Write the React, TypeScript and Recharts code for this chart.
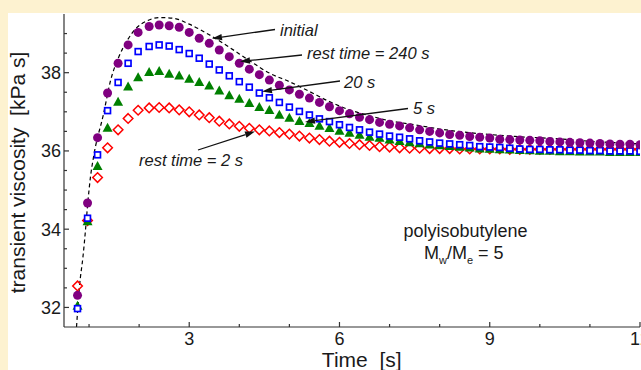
import React from 'react';
import { ComposedChart, XAxis, YAxis, Scatter, Line } from 'recharts';

const FONT = '"Liberation Sans", Arial, Helvetica, sans-serif';

const times = [0.77, 0.97, 1.17, 1.37, 1.58, 1.78, 1.98,
  2.2, 2.4, 2.6, 2.8, 3.0, 3.2, 3.4, 3.6, 3.8, 4.0, 4.2, 4.4, 4.6, 4.8, 5.0,
  5.2, 5.4, 5.6, 5.8, 6.0, 6.2, 6.4, 6.6, 6.8, 7.0, 7.2, 7.4, 7.6, 7.8, 8.0,
  8.2, 8.4, 8.6, 8.8, 9.0, 9.2, 9.4, 9.6, 9.8, 10.0, 10.2, 10.4, 10.6, 10.8, 11.0,
  11.2, 11.4, 11.6, 11.8, 12.0];

const rest240 = [32.31, 34.67, 36.34, 37.48, 38.24, 38.71, 39.03,
  39.18, 39.22, 39.20, 39.16, 39.03, 38.88, 38.75, 38.58, 38.41, 38.24, 38.09, 37.95, 37.81, 37.68, 37.56,
  37.45, 37.35, 37.24, 37.13, 37.03, 36.95, 36.86, 36.80, 36.73, 36.68, 36.64, 36.59, 36.54, 36.50, 36.46,
  36.42, 36.40, 36.37, 36.35, 36.33, 36.30, 36.29, 36.28, 36.27, 36.26, 36.24, 36.23, 36.22, 36.21, 36.20,
  36.19, 36.18, 36.17, 36.17, 36.16];

const rest20 = [31.97, 34.28, 35.90, 37.03, 37.75, 38.24, 38.54,
  38.67, 38.71, 38.68, 38.59, 38.49, 38.37, 38.22, 38.07, 37.92, 37.77, 37.63, 37.48, 37.36, 37.24, 37.12,
  37.01, 36.92, 36.82, 36.75, 36.67, 36.60, 36.54, 36.48, 36.43, 36.38, 36.35, 36.31, 36.26, 36.23, 36.20,
  36.18, 36.16, 36.14, 36.11, 36.10, 36.09, 36.07, 36.05, 36.04, 36.04, 36.03, 36.03, 36.02, 36.02, 36.01,
  36.01, 36.00, 36.00, 36.00, 35.99];

const rest5 = [32.04, 34.20, 35.61, 36.59, 37.25, 37.64, 37.88,
  38.01, 38.04, 37.97, 37.92, 37.84, 37.76, 37.67, 37.54, 37.42, 37.33, 37.22, 37.12, 37.04, 36.92, 36.84,
  36.76, 36.71, 36.64, 36.58, 36.51, 36.46, 36.41, 36.36, 36.33, 36.29, 36.25, 36.22, 36.19, 36.16, 36.14,
  36.12, 36.10, 36.08, 36.06, 36.05, 36.04, 36.03, 36.02, 36.01, 36.00, 36.00, 35.99, 35.99, 35.98, 35.98,
  35.98, 35.97, 35.97, 35.97, 35.97];

const rest2 = [32.55, 34.22, 35.32, 36.08, 36.54, 36.83, 37.04,
  37.10, 37.11, 37.10, 37.05, 37.00, 36.92, 36.85, 36.76, 36.69, 36.63, 36.58, 36.54, 36.51, 36.47, 36.43,
  36.38, 36.33, 36.29, 36.25, 36.22, 36.19, 36.16, 36.14, 36.11, 36.10, 36.08, 36.07, 36.07, 36.06, 36.06,
  36.06, 36.05, 36.05, 36.05, 36.05, 36.05, 36.04, 36.04, 36.04, 36.04, 36.04, 36.04, 36.04, 36.04, 36.04,
  36.04, 36.04, 36.04, 36.04, 36.04];

const initialT = [0.75, 0.81, 0.88, 0.93, 0.97, 1.03, 1.09, 1.29, 1.43, 1.59, 1.76, 1.92, 2.15, 2.42, 2.69,
  3.0, 3.4, 3.8, 4.2, 4.6, 5.0, 5.4, 5.8, 6.2, 6.6, 7.0, 7.5, 8.0, 8.5, 9.0, 9.5, 10.25, 11.1, 12.0];
const initialV = [31.5, 32.55, 33.31, 33.99, 34.6, 35.35, 35.85, 36.95, 37.8, 38.39, 38.82, 39.11, 39.32, 39.41, 39.39,
  39.24, 38.97, 38.65, 38.31, 37.99, 37.77, 37.52, 37.26, 37.05, 36.9, 36.77, 36.67, 36.56, 36.48, 36.42, 36.37, 36.32, 36.24, 36.18];

const xTicks = [1, 2, 3, 4, 5, 6, 7, 8, 9, 10, 11, 12];
const xMajor = [3, 6, 9, 12];
const yTicks = [32, 32.5, 33, 33.5, 34, 34.5, 35, 35.5, 36, 36.5, 37, 37.5, 38, 38.5, 39];
const yMajor = [32, 34, 36, 38];

const mk = (vals: number[]) => times.map((t, i) => ({ t, v: vals[i] }));
const d240 = mk(rest240);
const d20 = mk(rest20);
const d5 = mk(rest5);
const d2 = mk(rest2);
const dInit = initialT.map((t, i) => ({ t, v: initialV[i] }));

const AX = '#333';
const TXT = '#1a1a1a';

const BottomTick = (p: any) => {
  const { x, y, payload } = p;
  const major = xMajor.includes(payload.value);
  return (
    <g>
      <line x1={x} x2={x} y1={y} y2={y - (major ? 5 : 3)} stroke={AX} strokeWidth={1.2} />
      {major && (
        <text x={x} y={y + 18} textAnchor="middle" fontSize={18} fontFamily={FONT} fill={TXT}>
          {payload.value}
        </text>
      )}
    </g>
  );
};
const TopTick = (p: any) => {
  const { x, y, payload } = p;
  const major = xMajor.includes(payload.value);
  return <line x1={x} x2={x} y1={y} y2={y + (major ? 5 : 3)} stroke={AX} strokeWidth={1.2} />;
};
const LeftTick = (p: any) => {
  const { x, y, payload } = p;
  const major = yMajor.includes(payload.value);
  return (
    <g>
      <line x1={x} x2={x + (major ? 5 : 3)} y1={y} y2={y} stroke={AX} strokeWidth={1.2} />
      {major && (
        <text x={x - 3} y={y + 6.5} textAnchor="end" fontSize={18} fontFamily={FONT} fill={TXT}>
          {payload.value}
        </text>
      )}
    </g>
  );
};
const RightTick = (p: any) => {
  const { x, y, payload } = p;
  const major = yMajor.includes(payload.value);
  return <line x1={x} x2={x - (major ? 5 : 3)} y1={y} y2={y} stroke={AX} strokeWidth={1.2} />;
};

const Circle = (p: any) => <circle cx={p.cx} cy={p.cy} r={4.5} fill="#800080" />;
const Square = (p: any) => (
  <rect x={p.cx - 2.9} y={p.cy - 2.9} width={5.8} height={5.8} fill="#fff" stroke="#0000FF" strokeWidth={1.7} />
);
const Tri = (p: any) => (
  <polygon points={`${p.cx},${p.cy - 5.2} ${p.cx - 5},${p.cy + 3.8} ${p.cx + 5},${p.cy + 3.8}`} fill="#008000" />
);
const Diamond = (p: any) => (
  <polygon
    points={`${p.cx},${p.cy - 4.8} ${p.cx + 4.8},${p.cy} ${p.cx},${p.cy + 4.8} ${p.cx - 4.8},${p.cy}`}
    fill="none"
    stroke="#FF0000"
    strokeWidth={1.5}
  />
);

const Arrow = ({ x1, y1, x2, y2 }: { x1: number; y1: number; x2: number; y2: number }) => {
  const dx = x2 - x1;
  const dy = y2 - y1;
  const L = Math.sqrt(dx * dx + dy * dy);
  const ux = dx / L;
  const uy = dy / L;
  const hl = 10;
  const hw = 3.2;
  const bx = x2 - ux * hl;
  const by = y2 - uy * hl;
  return (
    <g>
      <line x1={x1} y1={y1} x2={bx} y2={by} stroke="#111" strokeWidth={1.3} />
      <polygon
        points={`${x2},${y2} ${bx - uy * hw},${by + ux * hw} ${bx + uy * hw},${by - ux * hw}`}
        fill="#111"
      />
    </g>
  );
};

const annoStyle = { fontFamily: FONT, fontSize: 16.5, fontStyle: 'italic' as const, fill: TXT };

export default function App() {
  return (
    <div style={{ position: 'fixed', left: 0, top: 0, width: 641, height: 370, background: '#FDF2D0', overflow: 'hidden' }}>
      <div style={{ position: 'absolute', left: 8, top: 13, width: 633, height: 357, background: '#fff' }} />
      <div style={{ position: 'absolute', left: 0, top: 0 }}>
        <ComposedChart width={641} height={370} margin={{ top: 14, right: 1, bottom: 0, left: 0 }}>
          <XAxis xAxisId="b" dataKey="t" type="number" domain={[0.5, 12]} allowDataOverflow ticks={xTicks} interval={0}
            tickSize={0} tickMargin={0} height={43} tick={BottomTick} tickLine={false}
            axisLine={{ stroke: AX, strokeWidth: 1.2 }} />
          <XAxis xAxisId="t" orientation="top" dataKey="t" type="number" domain={[0.5, 12]} allowDataOverflow ticks={xTicks}
            interval={0} tickSize={0} tickMargin={0} height={0} tick={TopTick} tickLine={false}
            axisLine={{ stroke: AX, strokeWidth: 1.2 }} />
          <YAxis yAxisId="l" dataKey="v" type="number" domain={[31.5, 39.5]} allowDataOverflow ticks={yTicks} interval={0}
            tickSize={0} tickMargin={0} width={64} tick={LeftTick} tickLine={false}
            axisLine={{ stroke: AX, strokeWidth: 1.2 }} />
          <YAxis yAxisId="r" orientation="right" dataKey="v" type="number" domain={[31.5, 39.5]} allowDataOverflow ticks={yTicks}
            interval={0} tickSize={0} tickMargin={0} width={0} tick={RightTick} tickLine={false}
            axisLine={{ stroke: AX, strokeWidth: 1.2 }} />
          <Scatter name="rest time = 2 s" data={d2} dataKey="v" xAxisId="b" yAxisId="l" shape={Diamond} isAnimationActive={false} />
          <Scatter name="5 s" data={d5} dataKey="v" xAxisId="b" yAxisId="l" shape={Tri} isAnimationActive={false} />
          <Scatter name="20 s" data={d20} dataKey="v" xAxisId="b" yAxisId="l" shape={Square} isAnimationActive={false} />
          <Scatter name="rest time = 240 s" data={d240} dataKey="v" xAxisId="b" yAxisId="l" shape={Circle} isAnimationActive={false} />
          <Line name="initial" data={dInit} dataKey="v" xAxisId="b" yAxisId="l" type="monotone" stroke="#000"
            strokeWidth={1.2} strokeDasharray="4 3" dot={false} activeDot={false} isAnimationActive={false} />
        </ComposedChart>
      </div>
      <svg width={641} height={370} style={{ position: 'absolute', left: 0, top: 0, pointerEvents: 'none' }}>
        <text transform="translate(25,172.5) rotate(-90)" textAnchor="middle" fontSize={21} fontFamily={FONT} fill={TXT}
          style={{ whiteSpace: 'pre' }}>
          {'transient viscosity  [kPa s]'}
        </text>
        <text x={361.7} y={367} textAnchor="middle" fontSize={21} fontFamily={FONT} fill={TXT} style={{ whiteSpace: 'pre' }}>
          {'Time  [s]'}
        </text>

        <text x={280} y={36} {...annoStyle}>initial</text>
        <Arrow x1={275} y1={29.5} x2={212} y2={38.5} />
        <text x={307} y={59} {...annoStyle} style={{ whiteSpace: 'pre' }}>rest time = 240 s</text>
        <Arrow x1={302} y1={55} x2={240} y2={61.5} />
        <text x={344} y={88} {...annoStyle}>20 s</text>
        <Arrow x1={340} y1={81} x2={262} y2={91.5} />
        <text x={413} y={114} {...annoStyle}>5 s</text>
        <Arrow x1={408} y1={108.5} x2={305} y2={122} />
        <text x={139} y={166} {...annoStyle}>rest time = 2 s</text>
        <Arrow x1={198} y1={150} x2={255} y2={131.5} />

        <text x={403.5} y={236.7} fontSize={18} fontFamily={FONT} fill={TXT}>polyisobutylene</text>
        <text x={424} y={259} fontSize={18} fontFamily={FONT} fill={TXT} style={{ whiteSpace: 'pre' }}>
          M<tspan fontSize={11} dy={5}>w</tspan><tspan dy={-5}>/M</tspan><tspan fontSize={11} dy={5}>e</tspan><tspan dy={-5}>{' = 5'}</tspan>
        </text>
      </svg>
    </div>
  );
}
